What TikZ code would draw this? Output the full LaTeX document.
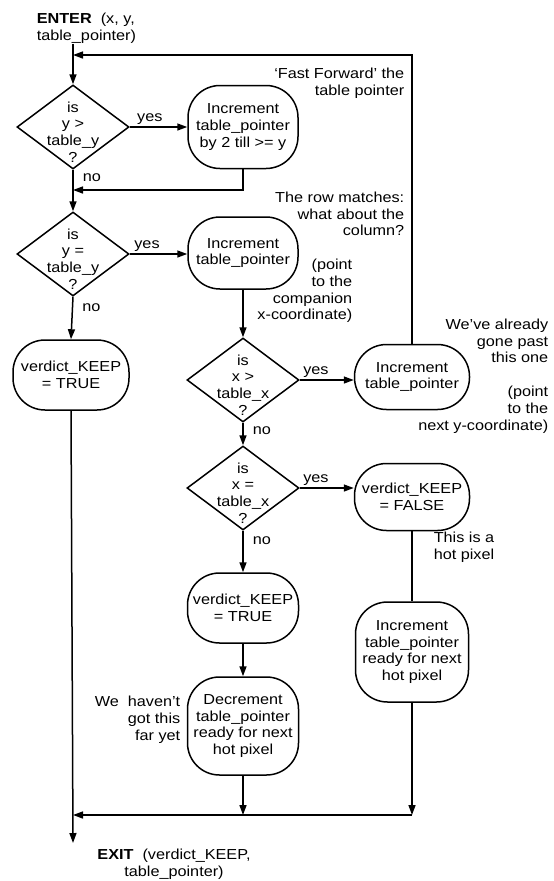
\documentclass[tikz,border=0pt]{standalone}
\usepackage{fontspec}
\setmainfont{Liberation Sans}[FakeStretch=1.12]
\usetikzlibrary{arrows.meta,shapes.geometric}

\begin{document}
\begin{tikzpicture}[x=1pt,y=-1pt,line width=1.5pt,
  font=\fontsize{14.5pt}{16.8pt}\selectfont,
  arr/.style={-{Triangle[length=10pt,width=7pt]}},
  dia/.style={draw,diamond,minimum width=112pt,minimum height=84pt,inner sep=0pt},
  ask/.style={align=center,inner sep=0pt},
  act/.style={draw,rounded corners=32pt,align=center,inner sep=0pt},
  note/.style={align=right,inner sep=0pt,anchor=east},
  lab/.style={inner sep=2pt}]
\useasboundingbox (0,0) rectangle (554,881);

\node[anchor=west,align=left,inner sep=0pt] (enter) at (36,28) {\textbf{ENTER}\ \ (x, y,\\table\_pointer)};
\node[align=center,inner sep=0pt] (exit) at (174,864) {\textbf{EXIT}\ \ (verdict\_KEEP,\\table\_pointer)};

% tests
\node[dia] (isyg) at (73,127) {};
\node[ask] (isygt) at (73,132) {is\\y >\\table\_y\\?};
\node[dia] (isye) at (73,254) {};
\node[ask] (isyet) at (73,259) {is\\y =\\table\_y\\?};
\node[dia] (isxg) at (243,380) {};
\node[ask] (isxgt) at (243,385) {is\\x >\\table\_x\\?};
\node[dia] (isxe) at (243,488) {};
\node[ask] (isxet) at (243,493) {is\\x =\\table\_x\\?};

% actions
\node[act,minimum width=110pt,minimum height=83pt] (skip) at (243,127) {Increment\\table\_pointer\\by 2 till >= y};
\node[act,minimum width=110pt,minimum height=72pt] (incy) at (243,253) {Increment\\table\_pointer};
\node[act,minimum width=116pt,minimum height=70pt] (keep1) at (71,375) {verdict\_KEEP\\= TRUE};
\node[act,minimum width=115pt,minimum height=65pt] (incx) at (412,377) {Increment\\table\_pointer};
\node[act,minimum width=115pt,minimum height=67pt] (falsek) at (412,497) {verdict\_KEEP\\= FALSE};
\node[act,minimum width=113pt,minimum height=100pt] (hotinc) at (412,652) {Increment\\table\_pointer\\ready for next\\hot pixel};
\node[act,minimum width=111pt,minimum height=70pt] (keep2) at (243,608) {verdict\_KEEP\\= TRUE};
\node[act,minimum width=111pt,minimum height=98pt] (dec) at (243,726) {Decrement\\table\_pointer\\ready for next\\hot pixel};

% remarks
\node[note] (ffwd) at (405,83) {`Fast Forward' the\\table pointer};
\node[note] (rowq) at (405,214) {The row matches:\\what about the\\column?};
\node[note] (compx) at (353,291) {(point\\to the\\companion\\x-coordinate)};
\node[note] (past) at (549,341) {We've already\\gone past\\this one};
\node[note] (nexty) at (549,410) {(point\\to the\\next y-coordinate)};
\node[align=center,inner sep=0pt] (hotp) at (464,547) {This is a\\hot pixel};
\node[note] (farr) at (181,720) {We\ \ haven't\\got this\\far yet};

\coordinate (back) at (73,55);
\coordinate (join) at (73,190);
\coordinate (mergeL) at (73,815);
\coordinate (out) at (73,843);
\coordinate (mergeR) at (hotinc.south |- mergeL);

\draw[arr] (isyg.north |- enter.south) -- (isyg.north);
\draw[arr] (incx.north) |- (back);
\draw[arr] (isyg.east) -- node[lab,above,pos=0.35] (yes1) {yes} (isyg.east -| skip.west);
\draw[arr] (skip.south) |- (join);
\draw[arr] (isyg.south) -- node[lab,right=7pt,pos=0.2] (no1) {no} (isye.north);
\draw[arr] (isye.east) -- node[lab,above,pos=0.3] (yes2) {yes} (isye.east -| incy.west);
\draw[arr] (isye.south) -- node[lab,right=7pt,pos=0.25] (no2) {no} (keep1.north);
\draw[arr] (keep1.south) -- (out);
\draw[arr] (incy.south) -- (isxg.north);
\draw[arr] (isxg.east) -- node[lab,above,pos=0.3] (yes3) {yes} (isxg.east -| incx.west);
\draw[arr] (isxg.south) -- node[lab,right=7pt,pos=0.33] (no3) {no} (isxe.north);
\draw[arr] (isxe.east) -- node[lab,above,pos=0.3] (yes4) {yes} (isxe.east -| falsek.west);
\draw[arr] (isxe.south) -- node[lab,right=7pt,pos=0.23] (no4) {no} (keep2.north);
\draw (falsek.south) -- (hotinc.north);
\draw[arr] (keep2.south) -- (dec.north);
\draw[arr] (hotinc.south) -- (mergeR);
\draw[arr] (mergeR) -- (mergeL);
\draw[arr] (dec.south) -- (dec.south |- mergeL);
\end{tikzpicture}
\end{document}
